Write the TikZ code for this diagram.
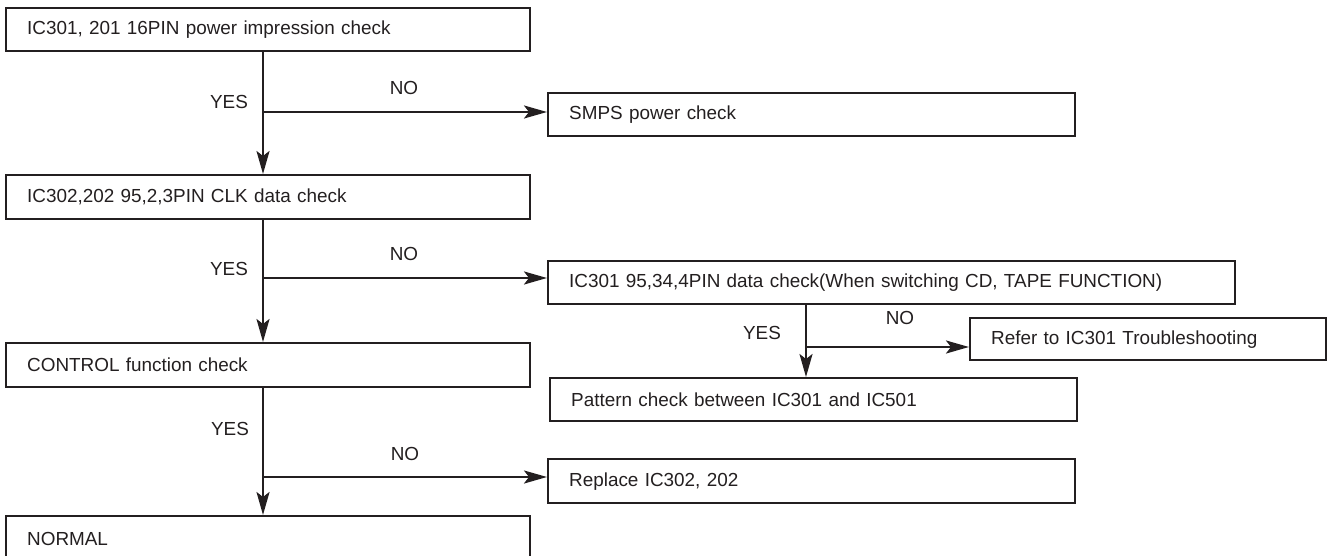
\documentclass[tikz,border=0pt]{standalone}
\usepackage{fontspec}
\setmainfont{Liberation Sans}
\usetikzlibrary{arrows.meta,calc}
\definecolor{ink}{HTML}{231F20}
\tikzset{
  box/.style={draw=ink, line width=2.3pt, rectangle, anchor=north west,
    inner xsep=21pt, inner ysep=0pt, align=left, text=ink,
    font=\fontsize{18.9}{22}\selectfont, minimum height=#1},
  box/.default=43pt,
  lbl/.style={text=ink, font=\fontsize{18.9}{22}\selectfont, inner sep=0pt},
  conn/.style={draw=ink, line width=2.3pt},
  arr/.style={conn, -{Stealth[length=23pt,width=13pt,inset=5pt]}}
}
\begin{document}
\begin{tikzpicture}[x=1pt,y=-1pt]
\useasboundingbox (0,0) rectangle (1330,556);
% boxes
\node[box, text width=482pt] (b1) at (5,7) {IC301, 201 16PIN power impression check};
\node[box, text width=482pt, minimum height=44pt] (b2) at (5,174) {IC302,202 95,2,3PIN CLK data check};
\node[box, text width=482pt, minimum height=44pt] (b3) at (5,342) {CONTROL function check};
\node[box, text width=482pt, minimum height=46pt] (b4) at (5,515) {NORMAL};
\node[box, text width=485pt] (s1) at (547,92) {SMPS power check};
\node[box, text width=645pt] (s2) at (547,260) {IC301 95,34,4PIN data check(When switching CD, TAPE FUNCTION)};
\node[box, text width=314pt, minimum height=42pt] (s3) at (969,317) {Refer to IC301 Troubleshooting};
\node[box, text width=485pt] (s4) at (549,377) {Pattern check between IC301 and IC501};
\node[box, text width=485pt, minimum height=44pt] (s5) at (547,458) {Replace IC302, 202};
% trunk coordinates
\coordinate (tr) at (263,0);
\coordinate (tr2) at (806,0);
\coordinate (j1) at (263,112);
\coordinate (j2) at (263,278);
\coordinate (j3) at (263,477);
\coordinate (j4) at (806,347);
% main trunk
\draw[arr] (b1.south -| tr) -- (b2.north -| tr);
\draw[arr] (b2.south -| tr) -- (b3.north -| tr);
\draw[arr] (b3.south -| tr) -- (b4.north -| tr);
\draw[arr] (s2.south -| tr2) -- (s4.north -| tr2);
% branches
\draw[arr] (j1) -- (j1 -| s1.west);
\draw[arr] (j2) -- (j2 -| s2.west);
\draw[arr] (j3) -- (j3 -| s5.west);
\draw[arr] (j4) -- (j4 -| s3.west);
% labels
\node[lbl] (y1) at (229,102) {YES};
\node[lbl] (n1) at (404,88) {NO};
\node[lbl] (y2) at (229,269) {YES};
\node[lbl] (n2) at (404,254) {NO};
\node[lbl] (y3) at (230,429) {YES};
\node[lbl] (n3) at (405,454) {NO};
\node[lbl] (y4) at (762,333) {YES};
\node[lbl] (n4) at (900,318) {NO};
\end{tikzpicture}
\end{document}
